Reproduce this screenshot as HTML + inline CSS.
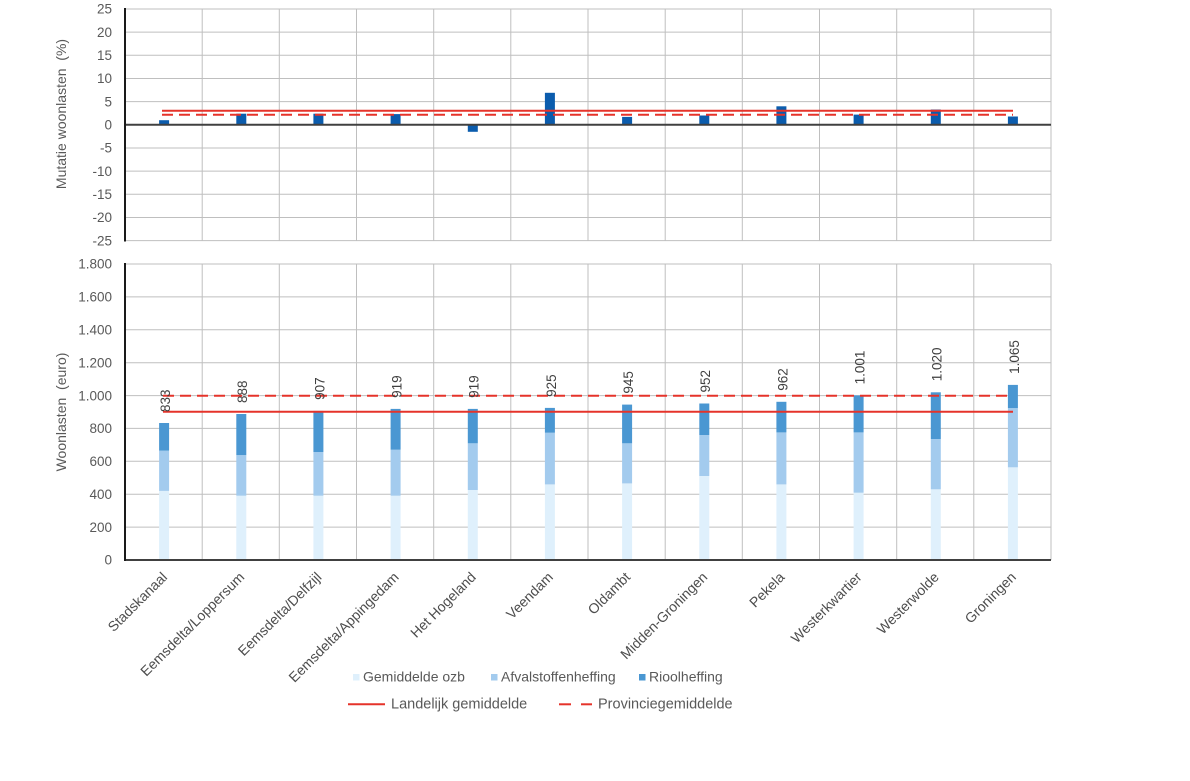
<!DOCTYPE html>
<html><head><meta charset="utf-8"><style>
html,body{margin:0;padding:0;background:#fff;}
svg{display:block;}
text{font-family:"Liberation Sans",Arial,sans-serif;}
.tk{font-size:13.5px;fill:#595959;text-anchor:end;}
.cat{font-size:14px;fill:#4d4d4d;text-anchor:end;}
.val{font-size:13.5px;fill:#404040;}
.lg{font-size:14.5px;fill:#595959;}
.lg1{font-size:14px;fill:#595959;}
</style></head><body>
<svg width="1190" height="781" viewBox="0 0 1190 781" xmlns="http://www.w3.org/2000/svg">
<rect width="1190" height="781" fill="#fff"/>
<!-- TOP PANEL grid -->
<g stroke="#bfbfbf" stroke-width="1" fill="none">
<line x1="125" y1="9" x2="1051" y2="9"/>
<line x1="125" y1="32.1" x2="1051" y2="32.1"/>
<line x1="125" y1="55.3" x2="1051" y2="55.3"/>
<line x1="125" y1="78.5" x2="1051" y2="78.5"/>
<line x1="125" y1="101.6" x2="1051" y2="101.6"/>
<line x1="125" y1="148" x2="1051" y2="148"/>
<line x1="125" y1="171.1" x2="1051" y2="171.1"/>
<line x1="125" y1="194.3" x2="1051" y2="194.3"/>
<line x1="125" y1="217.5" x2="1051" y2="217.5"/>
<line x1="125" y1="240.6" x2="1051" y2="240.6"/>
<line x1="202.2" y1="9" x2="202.2" y2="241"/>
<line x1="279.3" y1="9" x2="279.3" y2="241"/>
<line x1="356.5" y1="9" x2="356.5" y2="241"/>
<line x1="433.7" y1="9" x2="433.7" y2="241"/>
<line x1="510.8" y1="9" x2="510.8" y2="241"/>
<line x1="588" y1="9" x2="588" y2="241"/>
<line x1="665.2" y1="9" x2="665.2" y2="241"/>
<line x1="742.3" y1="9" x2="742.3" y2="241"/>
<line x1="819.5" y1="9" x2="819.5" y2="241"/>
<line x1="896.7" y1="9" x2="896.7" y2="241"/>
<line x1="973.8" y1="9" x2="973.8" y2="241"/>
<line x1="1051" y1="9" x2="1051" y2="241"/>
</g>
<!-- top bars -->
<g fill="#0b5cad">
<rect x="159.1" y="120.2" width="10" height="4.6"/>
<rect x="236.3" y="113.7" width="10" height="11.1"/>
<rect x="313.4" y="113.7" width="10" height="11.1"/>
<rect x="390.6" y="114.1" width="10" height="10.7"/>
<rect x="467.8" y="124.8" width="10" height="7"/>
<rect x="544.9" y="92.8" width="10" height="32"/>
<rect x="622.1" y="116.9" width="10" height="7.9"/>
<rect x="699.3" y="115.5" width="10" height="9.3"/>
<rect x="776.4" y="106.3" width="10" height="18.5"/>
<rect x="853.6" y="114.6" width="10" height="10.2"/>
<rect x="930.8" y="109.5" width="10" height="15.3"/>
<rect x="1007.9" y="116.5" width="10" height="8.3"/>
</g>
<line x1="125" y1="124.8" x2="1051" y2="124.8" stroke="#404040" stroke-width="2"/>
<line x1="125" y1="8" x2="125" y2="241.5" stroke="#1a1a1a" stroke-width="2"/>
<line x1="162" y1="110.7" x2="1013" y2="110.7" stroke="#e5332a" stroke-width="2"/>
<line x1="162" y1="114.7" x2="1013" y2="114.7" stroke="#e5332a" stroke-width="2" stroke-dasharray="11,6"/>
<!-- top ticks -->
<g class="tk">
<text x="112" y="13.7">25</text>
<text x="112" y="36.8">20</text>
<text x="112" y="60">15</text>
<text x="112" y="83.2">10</text>
<text x="112" y="106.3">5</text>
<text x="112" y="129.5">0</text>
<text x="112" y="152.7">-5</text>
<text x="112" y="175.8">-10</text>
<text x="112" y="199">-15</text>
<text x="112" y="222.2">-20</text>
<text x="112" y="245.3">-25</text>
</g>
<text transform="translate(66,114) rotate(-90)" text-anchor="middle" style="font-size:14px;fill:#595959" xml:space="preserve">Mutatie woonlasten  (%)</text>

<!-- BOTTOM PANEL grid -->
<g stroke="#bfbfbf" stroke-width="1" fill="none">
<line x1="125" y1="264" x2="1051" y2="264"/>
<line x1="125" y1="296.9" x2="1051" y2="296.9"/>
<line x1="125" y1="329.8" x2="1051" y2="329.8"/>
<line x1="125" y1="362.7" x2="1051" y2="362.7"/>
<line x1="125" y1="395.6" x2="1051" y2="395.6"/>
<line x1="125" y1="428.4" x2="1051" y2="428.4"/>
<line x1="125" y1="461.3" x2="1051" y2="461.3"/>
<line x1="125" y1="494.2" x2="1051" y2="494.2"/>
<line x1="125" y1="527.1" x2="1051" y2="527.1"/>
<line x1="202.2" y1="264" x2="202.2" y2="560"/>
<line x1="279.3" y1="264" x2="279.3" y2="560"/>
<line x1="356.5" y1="264" x2="356.5" y2="560"/>
<line x1="433.7" y1="264" x2="433.7" y2="560"/>
<line x1="510.8" y1="264" x2="510.8" y2="560"/>
<line x1="588" y1="264" x2="588" y2="560"/>
<line x1="665.2" y1="264" x2="665.2" y2="560"/>
<line x1="742.3" y1="264" x2="742.3" y2="560"/>
<line x1="819.5" y1="264" x2="819.5" y2="560"/>
<line x1="896.7" y1="264" x2="896.7" y2="560"/>
<line x1="973.8" y1="264" x2="973.8" y2="560"/>
<line x1="1051" y1="264" x2="1051" y2="560"/>
</g>
<!-- stacked bars: ozb -->
<g fill="#dff0fc">
<rect x="159.1" y="490.9" width="10" height="69.1"/>
<rect x="236.3" y="495.7" width="10" height="64.3"/>
<rect x="313.4" y="495.7" width="10" height="64.3"/>
<rect x="390.6" y="495.7" width="10" height="64.3"/>
<rect x="467.8" y="490" width="10" height="70"/>
<rect x="544.9" y="484.4" width="10" height="75.6"/>
<rect x="622.1" y="483.4" width="10" height="76.6"/>
<rect x="699.3" y="476" width="10" height="84"/>
<rect x="776.4" y="484.4" width="10" height="75.6"/>
<rect x="853.6" y="492.7" width="10" height="67.3"/>
<rect x="930.8" y="489.3" width="10" height="70.7"/>
<rect x="1007.9" y="467.3" width="10" height="92.7"/>
</g>
<!-- afval -->
<g fill="#a3cbee">
<rect x="159.1" y="450.6" width="10" height="40.3"/>
<rect x="236.3" y="455.1" width="10" height="40.6"/>
<rect x="313.4" y="452" width="10" height="43.7"/>
<rect x="390.6" y="449.7" width="10" height="46"/>
<rect x="467.8" y="443.3" width="10" height="46.7"/>
<rect x="544.9" y="432.7" width="10" height="51.7"/>
<rect x="622.1" y="443.3" width="10" height="40.1"/>
<rect x="699.3" y="435" width="10" height="41"/>
<rect x="776.4" y="432.4" width="10" height="52"/>
<rect x="853.6" y="432.4" width="10" height="60.3"/>
<rect x="930.8" y="439" width="10" height="50.3"/>
<rect x="1007.9" y="408.1" width="10" height="59.2"/>
</g>
<!-- riool -->
<g fill="#4a97d2">
<rect x="159.1" y="423" width="10" height="27.6"/>
<rect x="236.3" y="414" width="10" height="41.1"/>
<rect x="313.4" y="410.9" width="10" height="41.1"/>
<rect x="390.6" y="408.9" width="10" height="40.8"/>
<rect x="467.8" y="408.9" width="10" height="34.4"/>
<rect x="544.9" y="407.9" width="10" height="24.8"/>
<rect x="622.1" y="404.6" width="10" height="38.7"/>
<rect x="699.3" y="403.5" width="10" height="31.5"/>
<rect x="776.4" y="401.8" width="10" height="30.6"/>
<rect x="853.6" y="395.4" width="10" height="37"/>
<rect x="930.8" y="392.3" width="10" height="46.7"/>
<rect x="1007.9" y="384.9" width="10" height="23.2"/>
</g>
<line x1="124" y1="560" x2="1051" y2="560" stroke="#404040" stroke-width="2"/>
<line x1="125" y1="263" x2="125" y2="561" stroke="#1a1a1a" stroke-width="2"/>
<line x1="163" y1="411.7" x2="1013" y2="411.7" stroke="#e5332a" stroke-width="2"/>
<line x1="163" y1="395.7" x2="1010" y2="395.7" stroke="#e5332a" stroke-width="2" stroke-dasharray="11,6"/>
<!-- value labels -->
<g class="val">
<text transform="translate(170,412) rotate(-90)">833</text>
<text transform="translate(247.2,403) rotate(-90)">888</text>
<text transform="translate(324.3,399.9) rotate(-90)">907</text>
<text transform="translate(401.5,397.9) rotate(-90)">919</text>
<text transform="translate(478.7,397.9) rotate(-90)">919</text>
<text transform="translate(555.8,396.9) rotate(-90)">925</text>
<text transform="translate(633,393.6) rotate(-90)">945</text>
<text transform="translate(710.2,392.5) rotate(-90)">952</text>
<text transform="translate(787.3,390.8) rotate(-90)">962</text>
<text transform="translate(864.5,384.4) rotate(-90)">1.001</text>
<text transform="translate(941.7,381.3) rotate(-90)">1.020</text>
<text transform="translate(1018.8,373.9) rotate(-90)">1.065</text>
</g>
<!-- bottom ticks -->
<g class="tk">
<text x="112" y="268.7">1.800</text>
<text x="112" y="301.6">1.600</text>
<text x="112" y="334.5">1.400</text>
<text x="112" y="367.4">1.200</text>
<text x="112" y="400.3">1.000</text>
<text x="112" y="433.1">800</text>
<text x="112" y="466">600</text>
<text x="112" y="498.9">400</text>
<text x="112" y="531.8">200</text>
<text x="112" y="564.7">0</text>
</g>
<text transform="translate(66,412) rotate(-90)" text-anchor="middle" style="font-size:14px;fill:#595959" xml:space="preserve">Woonlasten  (euro)</text>
<!-- category labels -->
<g class="cat">
<text transform="translate(168.1,578) rotate(-45)">Stadskanaal</text>
<text transform="translate(245.3,578) rotate(-45)">Eemsdelta/Loppersum</text>
<text transform="translate(322.4,578) rotate(-45)">Eemsdelta/Delfzijl</text>
<text transform="translate(399.6,578) rotate(-45)">Eemsdelta/Appingedam</text>
<text transform="translate(476.8,578) rotate(-45)">Het Hogeland</text>
<text transform="translate(553.9,578) rotate(-45)">Veendam</text>
<text transform="translate(631.1,578) rotate(-45)">Oldambt</text>
<text transform="translate(708.3,578) rotate(-45)">Midden-Groningen</text>
<text transform="translate(785.4,578) rotate(-45)">Pekela</text>
<text transform="translate(862.6,578) rotate(-45)">Westerkwartier</text>
<text transform="translate(939.8,578) rotate(-45)">Westerwolde</text>
<text transform="translate(1016.9,578) rotate(-45)">Groningen</text>
</g>
<!-- legend -->
<rect x="353" y="674" width="6.5" height="6.5" fill="#dff0fc"/>
<text class="lg1" x="363" y="681.5">Gemiddelde ozb</text>
<rect x="491" y="674" width="6.5" height="6.5" fill="#a3cbee"/>
<text class="lg1" x="501" y="681.5">Afvalstoffenheffing</text>
<rect x="639" y="674" width="6.5" height="6.5" fill="#4a97d2"/>
<text class="lg1" x="649" y="681.5">Rioolheffing</text>
<line x1="348" y1="704.3" x2="385" y2="704.3" stroke="#e5332a" stroke-width="2"/>
<text class="lg" x="391" y="708.5">Landelijk gemiddelde</text>
<line x1="559" y1="704.3" x2="571" y2="704.3" stroke="#e5332a" stroke-width="2"/>
<line x1="581" y1="704.3" x2="592" y2="704.3" stroke="#e5332a" stroke-width="2"/>
<text class="lg" x="598" y="708.5">Provinciegemiddelde</text>
</svg>
</body></html>
